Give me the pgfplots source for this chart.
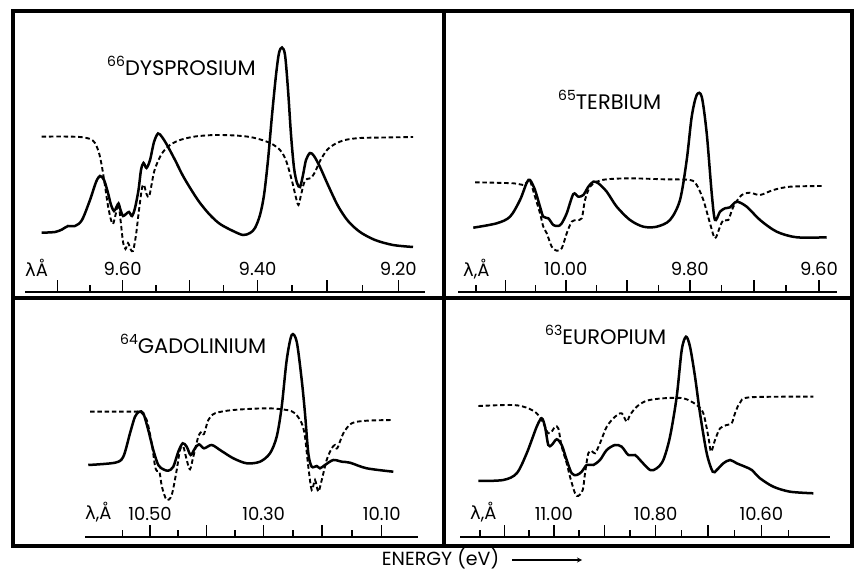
\documentclass[border=0pt]{standalone}
\usepackage{fontspec}
\setmainfont{Poppins}
\newfontfamily\dvs{DejaVu Sans}
\usepackage{pgfplots}
\pgfplotsset{compat=1.18}

% x: photon energy in eV (E = 12398.4/lambda), y: signal above the scale line, arbitrary units
\newcommand\titfont{\fontsize{21}{23}\selectfont}
\newcommand\ticfont{\fontsize{18}{18}\selectfont}
\newcommand\zsup[1]{\raisebox{9pt}{\fontsize{14}{14}\selectfont #1}}

\pgfplotsset{
  panel/.style={
    scale only axis, clip=false, anchor=south west,
    axis x line*=bottom, axis y line=none, ytick=\empty,
    ymin=0,
    tick align=inside,
    major tick length=12pt, minor tick length=7pt,
    tick style={black, line width=1.5pt},
    x axis line style={black, line width=1.7pt},
    xticklabel style={anchor=base, yshift=16pt, font=\ticfont},
  },
  full/.style={black, line width=2.5pt, smooth, tension=0.5, no markers},
  dash/.style={black, line width=1.9pt, smooth, tension=0.5, no markers, dash pattern=on 4.5pt off 2.8pt},
}

\begin{document}
\begin{tikzpicture}
\useasboundingbox (0pt,0pt) rectangle (865pt,573pt);

% ---------- 66 Dysprosium
\begin{axis}[panel, at={(25pt,281pt)}, width=400pt, height=260pt,
  xmin=1271.61, xmax=1353.09, ymax=260,
  xtick={1278.19,1291.50,1305.09,1318.98,1333.16,1347.65},
  xticklabels={,9.60,,9.40,,9.20},
  minor xtick={1284.81,1298.26,1312.00,1326.03,1340.37}]
\addplot[full] coordinates {(1275.01,59.3) (1277.72,60) (1279.15,62.5) (1280.37,66) (1281.80,66) (1283.22,72) (1284.85,92) (1286.08,110) (1286.89,116) (1287.71,112) (1288.52,99) (1289.13,87) (1289.74,81) (1290.25,85) (1290.66,88.5) (1291.07,82) (1291.58,76) (1292.19,78) (1292.80,80) (1293.41,76) (1294.02,84) (1294.73,102) (1295.24,122) (1295.75,129) (1296.36,124) (1297.08,132) (1297.89,150) (1298.71,158.5) (1299.52,155) (1300.54,147) (1302.17,132) (1303.80,116) (1305.63,101) (1307.26,89) (1309.30,77) (1311.33,68) (1313.98,61) (1316.02,57) (1317.45,59) (1318.46,64) (1319.48,77) (1320.30,97) (1321.11,132) (1321.93,177) (1322.74,217) (1323.35,239) (1323.96,244.5) (1324.58,237) (1325.19,202) (1325.80,157) (1326.41,124) (1327.02,109) (1327.63,105) (1328.24,117) (1328.85,132) (1329.67,139) (1330.48,136) (1331.70,125) (1333.33,107) (1335.37,86) (1337.41,71) (1339.85,60) (1342.91,52) (1346.57,47) (1350.65,45)};
\addplot[dash] coordinates {(1275.01,155.3) (1278.74,155.5) (1282.82,155) (1284.85,153) (1285.87,149) (1286.69,139) (1287.30,125) (1287.91,106) (1288.52,86) (1289.13,72) (1289.54,68) (1290.05,77) (1290.62,88.5) (1291.07,72) (1291.58,50) (1292.08,43) (1292.59,49) (1293.10,43) (1293.61,41) (1294.22,57) (1294.83,82) (1295.45,104) (1295.85,107) (1296.36,98) (1296.87,95) (1297.38,107) (1297.89,120) (1298.71,131) (1299.72,140) (1301.15,147) (1303.19,152) (1306.24,155.5) (1310.32,157) (1314.39,156.5) (1317.45,155) (1319.89,152) (1321.93,148) (1323.56,142) (1324.58,134) (1325.39,122) (1326.20,107) (1326.82,94) (1327.32,87) (1327.83,97) (1328.45,109) (1329.06,113) (1329.87,114) (1330.69,120) (1331.70,131) (1333.13,142) (1334.76,148) (1336.80,152) (1339.85,154) (1344.95,154.5) (1350.65,155)};
\node[anchor=base west, font=\titfont, inner sep=0pt] at (axis cs:1288.32,216) {\zsup{66}DYSPROSIUM};
\node[anchor=base west, font=\ticfont, inner sep=0pt] at (axis cs:1271.61,15) {{\dvs λ}Å};
\end{axis}

% ---------- 65 Terbium
\begin{axis}[panel, at={(458.3pt,281pt)}, width=378.4pt, height=260pt,
  xmin=1217.91, xmax=1295.11, ymax=260,
  xtick={1227.56,1239.84,1252.36,1265.14,1278.19,1291.50},
  xticklabels={,10.00,,9.80,,9.60},
  minor xtick={1221.52,1233.67,1246.07,1258.72,1271.63,1284.81}]
\addplot[full] coordinates {(1220.97,64.3) (1225.75,68.7) (1228.46,75.3) (1230.50,92) (1231.87,109.3) (1232.54,112) (1233.56,102) (1234.58,85.3) (1235.25,75.3) (1236.27,73.7) (1237.29,67) (1238.31,66) (1239.01,68.7) (1240.03,78.7) (1241.38,98) (1242.40,95.3) (1243.42,97) (1244.44,105.3) (1245.46,110.3) (1246.48,108.7) (1248.19,100.3) (1250.23,85.3) (1252.94,72) (1255.66,65.3) (1258.39,65.3) (1261.10,72) (1263.14,92) (1264.51,132) (1265.53,175.3) (1266.55,197) (1267.57,195.3) (1268.59,158.7) (1269.61,98.7) (1270.28,72) (1271.30,80.3) (1272.33,83.7) (1273.35,84.7) (1274.71,90.3) (1276.75,85.3) (1279.47,72) (1282.87,60.3) (1286.95,54.7) (1293.07,54.7)};
\addplot[dash] coordinates {(1221.32,109.7) (1229.13,108.7) (1231.17,107) (1232.13,111) (1232.54,111.5) (1233.56,95.3) (1234.58,78.7) (1235.25,65.3) (1235.95,58.7) (1236.97,45.3) (1237.99,41.3) (1239.01,43.7) (1240.03,58.7) (1241.05,70.3) (1242.07,72) (1243.09,73.7) (1243.76,92) (1244.78,105.3) (1246.15,110.3) (1248.19,112.7) (1252.94,113.7) (1259.74,112.7) (1265.18,112) (1266.55,107) (1267.90,92) (1269.26,68.7) (1270.28,53.7) (1271.30,65.3) (1271.98,72) (1273.00,72) (1274.02,85.3) (1275.73,97) (1277.43,99.3) (1279.47,97) (1282.18,102) (1285.59,105.3) (1292.38,106)};
\node[anchor=base west, font=\titfont, inner sep=0pt] at (axis cs:1238.25,182) {\zsup{65}TERBIUM};
\node[anchor=base west, font=\ticfont, inner sep=0pt] at (axis cs:1218.87,15) {{\dvs λ},Å};
\end{axis}

% ---------- 64 Gadolinium
\begin{axis}[panel, at={(85pt,36pt)}, width=333pt, height=220pt,
  xmin=1167.67, xmax=1234.88, ymax=220,
  xtick={1180.80,1192.15,1203.73,1215.53,1227.56},
  xticklabels={10.50,,10.30,,10.10},
  minor xtick={1175.20,1186.45,1197.92,1209.60,1221.52}]
\addplot[full] coordinates {(1168.33,72) (1173.72,74.3) (1175.40,80.3) (1176.75,103.7) (1177.76,120.3) (1178.63,125.3) (1179.44,123.7) (1180.44,107) (1181.45,87) (1182.46,72) (1183.47,67.7) (1184.48,66.3) (1185.49,70.3) (1186.50,85.3) (1187.39,93.7) (1188.20,90.3) (1189.00,82) (1189.87,88.7) (1190.68,92.7) (1191.69,88.7) (1193.24,92) (1194.92,87) (1197.60,78.7) (1200.31,73.7) (1202.99,75.3) (1205.01,83.7) (1206.36,100.3) (1207.37,130.3) (1208.38,177) (1209.39,202) (1210.40,195.3) (1211.41,157) (1212.07,123.7) (1212.74,83.7) (1213.43,70.3) (1214.44,71) (1215.10,68.7) (1216.11,72) (1217.79,77) (1219.48,75.3) (1221.16,74.3) (1224.53,68.7) (1229.90,65.3)};
\addplot[dash] coordinates {(1168.68,125.3) (1177.42,125.3) (1178.77,125.3) (1180.12,117) (1181.13,93.7) (1181.80,71) (1182.20,66) (1182.71,65) (1183.21,50) (1184.16,37) (1185.17,42) (1186.18,67) (1186.84,87) (1187.51,90.3) (1188.20,77) (1188.86,67.7) (1189.53,80.3) (1190.54,100.3) (1191.22,105.3) (1191.69,103) (1192.56,117) (1193.91,123.7) (1197.60,127) (1204.34,128.7) (1208.38,127) (1210.06,123.7) (1211.41,113.7) (1212.07,100.3) (1212.74,70.3) (1213.43,47) (1214.09,57) (1214.76,45.3) (1215.45,57) (1216.45,77) (1217.46,88.7) (1218.13,92) (1218.59,88.7) (1219.81,103.7) (1221.50,113.7) (1224.53,116.3) (1229.90,117)};
\node[anchor=base west, font=\titfont, inner sep=0pt] at (axis cs:1174.73,183) {\zsup{64}GADOLINIUM};
\node[anchor=base west, font=\ticfont, inner sep=0pt] at (axis cs:1167.67,17) {{\dvs λ},Å};
\end{axis}

% ---------- 63 Europium
\begin{axis}[panel, at={(460pt,36pt)}, width=370pt, height=220pt,
  xmin=1107.87, xmax=1183.75, ymax=220,
  xtick={1116.97,1127.13,1137.47,1148.00,1158.73,1169.66},
  xticklabels={,11.00,,10.80,,10.60},
  minor xtick={1111.97,1122.03,1132.27,1142.71,1153.34,1164.17,1175.20}]
\addplot[full] coordinates {(1111.63,56) (1116.75,57) (1119.50,63.7) (1121.55,83.7) (1123.60,110.3) (1124.63,118.7) (1125.30,110.3) (1125.98,92) (1126.68,92) (1127.70,97.7) (1128.73,92) (1129.75,77) (1130.78,63.7) (1131.81,62) (1132.83,65.3) (1133.86,72) (1135.21,72) (1136.58,77) (1137.96,87) (1139.66,92) (1141.03,90.3) (1142.39,82) (1143.76,82) (1144.79,77) (1146.84,67) (1148.21,68.7) (1149.57,77) (1150.94,100.3) (1152.31,140.3) (1153.34,187) (1154.22,200.3) (1155.04,190.3) (1156.07,160.3) (1157.09,123.7) (1158.47,83.7) (1159.70,65.3) (1160.52,67) (1161.87,73.7) (1163.25,77) (1164.62,73.7) (1166.32,70.3) (1167.70,67) (1169.40,58.7) (1172.13,50.3) (1175.55,45.3) (1180.33,43.7)};
\addplot[dash] coordinates {(1111.63,131) (1118.80,132) (1121.88,128.7) (1123.60,123.7) (1124.63,117) (1125.30,110.3) (1125.98,103.7) (1126.68,105.3) (1127.36,110.3) (1128.03,108.7) (1128.73,90.3) (1129.75,73.7) (1130.43,60.3) (1131.46,43.7) (1132.13,41) (1133.04,47) (1133.51,63.7) (1134.18,83.7) (1134.88,86) (1135.56,83.7) (1136.58,93.7) (1137.96,110.3) (1139.66,120.3) (1141.03,123.7) (1142.06,115.3) (1142.74,122) (1144.11,130.3) (1146.16,136.3) (1149.57,138.7) (1153.67,138.7) (1156.42,132) (1157.77,123.7) (1158.80,100.3) (1159.35,85.3) (1160.17,97) (1161.20,108.7) (1162.57,112) (1163.59,113.7) (1164.27,123.7) (1165.30,134.3) (1167.35,139.7) (1180.33,140.3)};
\node[anchor=base west, font=\titfont, inner sep=0pt] at (axis cs:1125.30,192) {\zsup{63}EUROPIUM};
\node[anchor=base west, font=\ticfont, inner sep=0pt] at (axis cs:1109.92,17) {{\dvs λ},Å};
\end{axis}

% frames of the four panels
\draw[line width=3.5pt, line join=miter] (13pt,562pt) rectangle (852pt,27pt);
\draw[line width=3.5pt] (444pt,562pt) -- (444pt,27pt);
\draw[line width=3.5pt] (13pt,275pt) -- (852pt,275pt);

\node[anchor=base west, font=\fontsize{19}{19}\selectfont, inner sep=0pt] at (381.7pt,7pt) {ENERGY (eV)};
\draw[line width=1.2pt, -stealth] (512pt,13pt) -- (582pt,13pt);
\end{tikzpicture}
\end{document}
